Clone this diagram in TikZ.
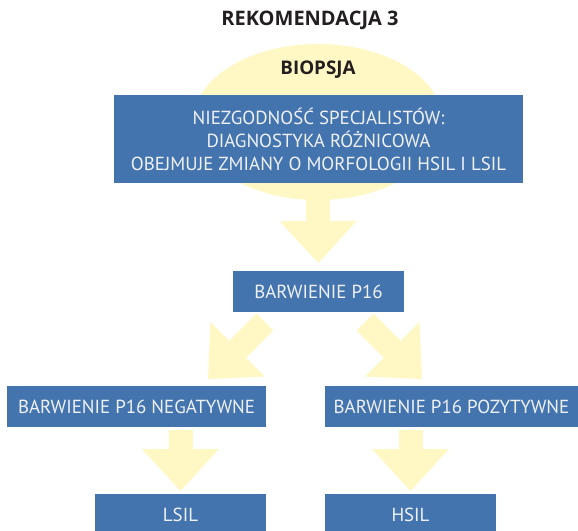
\documentclass[tikz,border=0pt]{standalone}
\usepackage{fontspec}
\setmainfont{PT Sans}
\newfontfamily\headfont{Open Sans}
\usetikzlibrary{arrows.meta,calc,shapes.geometric}
\definecolor{boxblue}{HTML}{4474AE}
\definecolor{pale}{HTML}{FFF8C4}
\definecolor{boxtext}{HTML}{EEF2F8}
\definecolor{titletext}{HTML}{231F20}
\tikzset{
  bluebox/.style={fill=boxblue, draw=none, inner sep=0pt, outer sep=0pt, align=center,
    text=boxtext, font=\fontsize{18.9}{23}\selectfont},
  fatarrow/.style={draw=pale, line width=24pt, line cap=butt,
    -{Triangle[width=77pt,length=42pt,line width=0pt]}},
  heading/.style={text=titletext, inner sep=0pt}
}
\begin{document}
\begin{tikzpicture}[x=1pt,y=-1pt]
\useasboundingbox (0,0) rectangle (578,530);
\clip (0,0) rectangle (578,530);
% background ellipse
\node[ellipse, fill=pale, draw=none, minimum width=250pt, minimum height=156pt, inner sep=0pt] (oval) at (318,122) {};
\node[heading, font=\headfont\fontsize{20}{24}\selectfont\bfseries] (title) at (310,20) {REKOMENDACJA 3};
\node[heading, font=\headfont\fontsize{18.8}{22}\selectfont\bfseries] (biopsja) at (318,70) {BIOPSJA};
% boxes
\node[bluebox, minimum width=409pt, minimum height=88pt] (main) at (318.5,139)
  {NIEZGODNOŚĆ SPECJALISTÓW:\\DIAGNOSTYKA RÓŻNICOWA\\OBEJMUJE ZMIANY O MORFOLOGII HSIL I LSIL};
\node[bluebox, minimum width=171pt, minimum height=41pt] (p16) at (318.5,291.5) {BARWIENIE P16};
\node[bluebox, minimum width=259pt, minimum height=41pt] (neg) at (136.5,406.5) {BARWIENIE P16 NEGATYWNE};
\node[bluebox, minimum width=253pt, minimum height=41pt] (pos) at (451.5,406.5) {BARWIENIE P16 POZYTYWNE};
\node[bluebox, minimum width=171pt, minimum height=41pt] (lsil) at (180.5,514.5) {LSIL};
\node[bluebox, minimum width=171pt, minimum height=41pt] (hsil) at (410.5,514.5) {HSIL};
% arrows
\draw[fatarrow] ($(oval.south)+(0,-8)$) -- ($(p16.north)+(0,-8)$);
\draw[fatarrow] ($(p16.south)+(-53.5,10)$) -- ($(neg.north)+(71.5,-7)$);
\draw[fatarrow] ($(p16.south)+(46.5,10)$) -- ($(pos.north)+(-29.5,-7)$);
\draw[fatarrow] ($(neg.south -| lsil.north)+(0,3)$) -- ($(lsil.north)+(0,-3)$);
\draw[fatarrow] ($(pos.south -| hsil.north)+(0,3)$) -- ($(hsil.north)+(0,-3)$);
\end{tikzpicture}
\end{document}
